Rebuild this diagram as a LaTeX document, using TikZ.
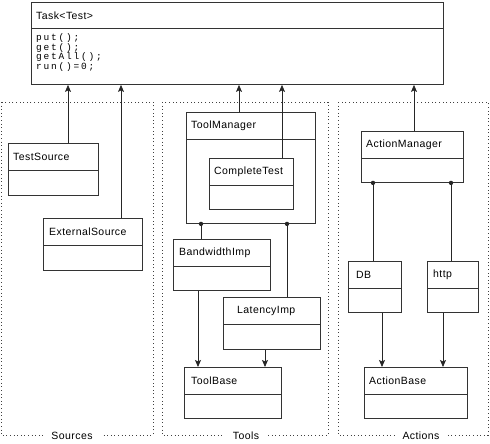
\documentclass[tikz,border=0pt]{standalone}
\usepackage{fontspec}
\setmainfont{Liberation Sans}[LetterSpace=4]
\setmonofont{Liberation Mono}[LetterSpace=19]
\usetikzlibrary{calc,arrows.meta}

\begin{document}
\begin{tikzpicture}[x=1pt,y=-1pt,>={Stealth[length=7pt,width=6pt,inset=1.5pt]},
		font=\fontsize{10.5}{12}\selectfont,
		classbox/.style={draw=black!80,line width=0.9pt,anchor=north west,inner sep=0pt},
		classline/.style={draw=black!80,line width=0.9pt},
		pkg/.style={draw=black!75,line width=0.8pt,dash pattern=on 1pt off 2.6pt},
		pkglabel/.style={fill=white,inner xsep=8pt,inner ysep=1pt},
		link/.style={draw=black!85,line width=0.8pt}]
			\useasboundingbox (0,0) rectangle (490,444);
			% packages
			\draw[pkg] (1,102) rectangle (153,435);
			\draw[pkg] (162,102) rectangle (328,435);
			\draw[pkg] (338,102) rectangle (488,435);
			\node[pkglabel] (srclbl) at (72,436) {Sources};
			\node[pkglabel] (toollbl) at (246,436) {Tools};
			\node[pkglabel] (actlbl) at (421,436) {Actions};
			% the task
			\node[classbox,minimum width=412,minimum height=82] (task) at (31,2) {};
			\draw[classline] ($(task.north west)+(0,26)$) -- ($(task.north east)+(0,26)$);
			\node[anchor=west,inner sep=0pt] at ($(task.north west)+(5,14)$) {Task<Test>};
			\foreach \m [count=\i] in {put();,get();,getAll();,run()=0;}
			\node[anchor=west,inner sep=0pt,font=\ttfamily\fontsize{9.5}{10}\selectfont]
				(meth\i) at ($(task.north west)+(5,27+9.5*\i)$) {\m};
			% the classes
			\foreach \n/\x/\y/\w/\h/\dx/\t in {
				testsrc/8/143/90/52/5/TestSource,
				extsrc/43/218/99/52/6/ExternalSource,
				toolmgr/186/112/129/111/5/ToolManager,
				complete/209/158/84/51/5/CompleteTest,
				bwimp/173/239/97/51/6/BandwidthImp,
				latimp/223/297/97/52/14/LatencyImp,
				toolbase/184/367/97/51/7/ToolBase,
				actmgr/361/131/102/51/5/ActionManager,
				db/348/261/53/51/8/DB,
				http/427/261/51/51/6/http,
				actbase/364/367/103/51/5/ActionBase} {
				\node[classbox,minimum width=\w,minimum height=\h] (\n) at (\x,\y) {};
				\draw[classline] ($(\n.north west)+(0,27)$) -- ($(\n.north east)+(0,27)$);
				\node[anchor=west,inner sep=0pt] at ($(\n.north west)+(\dx,14)$) {\t};
			}
			% up to the task
			\foreach \n/\dx in {testsrc/60,extsrc/78,toolmgr/53,complete/73,actmgr/53}
			\draw[link,->] ($(\n.north west)+(\dx,0)$) coordinate (up) -- (up |- task.south);
			% managers own their parts
			\foreach \a/\dx/\b in {toolmgr/15/bwimp,toolmgr/101/latimp,actmgr/12/db,actmgr/90/http} {
				\coordinate (dot) at ($(\a.south west)+(\dx,0)$);
				\draw[link] (dot) -- (dot |- \b.north);
				\fill[black!85] (dot) circle (2.2);
			}
			% down to the bases
			\foreach \a/\dx/\b in {bwimp/25/toolbase,latimp/42/toolbase,db/34/actbase,http/16/actbase}
			\draw[link,->] ($(\a.south west)+(\dx,0)$) coordinate (dn) -- (dn |- \b.north);
		\end{tikzpicture}
\end{document}
